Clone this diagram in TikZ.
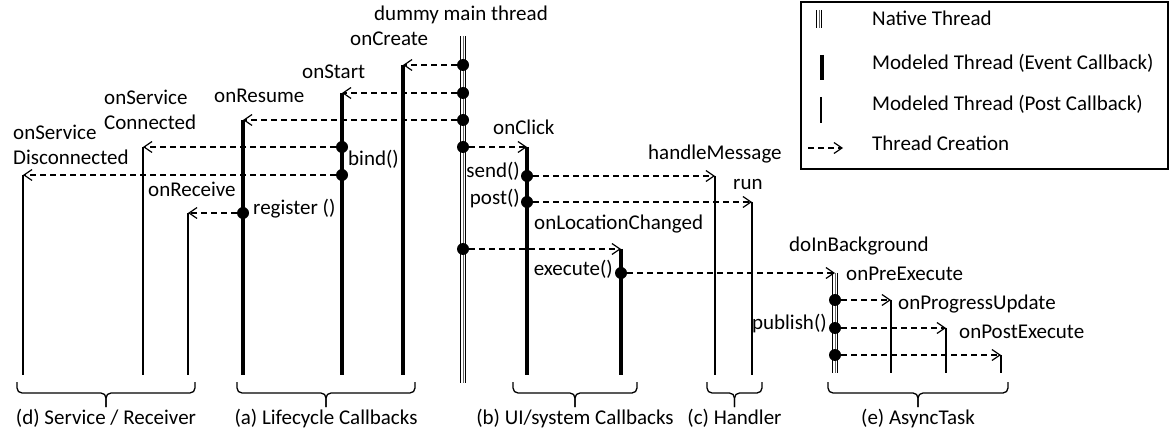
\documentclass[tikz,border=0pt]{standalone}
\usepackage{fontspec}
\setmainfont{Carlito}
\usetikzlibrary{arrows.meta}

\begin{document}
\begin{tikzpicture}[x=1pt, y=-1pt,
            lbl/.style={
              font=\fontsize{21}{25}\selectfont,
              inner sep=0pt
            },
            native/.style={
              draw=black!60, line width=1pt,
              preaction={draw=black, line width=6.6pt},
              preaction={draw=white, line width=3.4pt}
            },
            event/.style={draw, line width=4.4pt},
            posted/.style={draw, line width=1.3pt},
            spawn/.style={
              draw, line width=1.2pt, dash pattern=on 6pt off 4pt,
              -{Straight Barb[length=8pt, width=11pt]}
            },
            dot/.style={circle, fill, inner sep=0pt, minimum size=12pt},
            grpbrace/.style={draw, line width=1.3pt, rounded corners=5pt}
        ]
\useasboundingbox (0,0) rectangle (1170,438);
\def\ybot{375}

% native threads
\coordinate (main-top) at (463,36);
\coordinate (main-bot) at (463,383);
\draw[native] (main-top) -- (main-bot);
\coordinate (dib-top) at (835,273);
\coordinate (dib-bot) at (835,373);
\draw[native] (dib-top) -- (dib-bot);

% event callbacks
\foreach \nm/\x/\y in {create/403/65, start/342/93, resume/243/120, click/527/147, loc/621/249}{
    \coordinate (\nm-top) at (\x,\y);
    \coordinate (\nm-bot) at (\x,\ybot);
    \draw[event] (\nm-top) -- (\nm-bot);
}

% post callbacks
\foreach \nm/\x/\y/\b in {disc/23/175/375, conn/143/147/375, recv/188/213/375,
    hm/715/176/375, run/752/202/375, pre/891/300/373, prog/946/328/373, postx/1001/355/373}{
    \coordinate (\nm-top) at (\x,\y);
    \coordinate (\nm-bot) at (\x,\b);
    \draw[posted] (\nm-top) -- (\nm-bot);
}

\foreach \nm/\x/\y in {m1/463/65, m2/463/93, m3/463/120, m4/463/147, m5/463/249,
    s1/342/147, s2/342/175, r1/243/213, c1/527/176, c2/527/202, e1/621/273,
    a1/835/300, a2/835/328, a3/835/355}
    \node[dot] (\nm) at (\x,\y) {};

\foreach \a/\b in {m1/create-top, m2/start-top, m3/resume-top, m4/click-top, m5/loc-top,
    s1/conn-top, s2/disc-top, r1/recv-top, c1/hm-top, c2/run-top, e1/dib-top,
    a1/pre-top, a2/prog-top, a3/postx-top}
    \draw[spawn] (\a) -- (\b);

% labels
\node[lbl] (main-lbl) at (461,15) {dummy main thread};
\foreach \nm/\x/\y/\n in {create/350/43/onCreate, start/302/76/onStart, resume/214/100/onResume,
    bind/348/163/bind(), recv/148/194/onReceive, reg/253/212/register (), click/493/132/onClick,
    hm/648/157/handleMessage, run/733/187/run, loc/534/227/onLocationChanged,
    dib/789/249/doInBackground, pre/846/278/onPreExecute, prog/898/307/onProgressUpdate,
    postx/959/336/onPostExecute}
    \node[lbl, anchor=mid west] (\nm-lbl) at (\x,\y) {\n};
\foreach \nm/\x/\y/\n in {send/520/175/send(), post/520/202/post(), exec/613/273/execute(),
    pub/827/327/publish()}
    \node[lbl, anchor=mid east] (\nm-lbl) at (\x,\y) {\n};
\node[lbl, anchor=west, align=left] (conn-lbl) at (104,109.5) {onService\\Connected};
\node[lbl, anchor=west, align=left] (disc-lbl) at (13,145) {onService\\Disconnected};

% groups
\foreach \nm/\xa/\xb/\n in {d/17/195/{(d) Service / Receiver}, a/237/415/{(a) Lifecycle Callbacks},
    b/513/637/{(b) UI/system Callbacks}, c/707/762/{(c) Handler}, e/828/1008/{(e) AsyncTask}}{
    \pgfmathsetmacro\xm{(\xa+\xb)/2}
    \draw[grpbrace] (\xa,382) |- (\xm,393) -- (\xm,407);
    \draw[grpbrace] (\xb,382) |- (\xm,393) -- (\xm,407);
    \node[lbl, anchor=mid] (\nm-grp) at (\xm,422) {\n};
}

% legend
\draw[line width=1.3pt] (801,2) rectangle (1168,169);
\coordinate (key1-a) at (819,10);  \coordinate (key1-b) at (819,28);
\coordinate (key2-a) at (822,55);  \coordinate (key2-b) at (822,80);
\coordinate (key3-a) at (821,97);  \coordinate (key3-b) at (821,123);
\coordinate (key4-a) at (808,148); \coordinate (key4-b) at (843,148);
\draw[native] (key1-a) -- (key1-b);
\draw[event] (key2-a) -- (key2-b);
\draw[posted] (key3-a) -- (key3-b);
\draw[spawn] (key4-a) -- (key4-b);
\foreach \i/\y/\n in {1/23/Native Thread, 2/67/Modeled Thread (Event Callback),
    3/108/Modeled Thread (Post Callback), 4/148/Thread Creation}
    \node[lbl, anchor=mid west] (key\i-lbl) at (872,\y) {\n};

\end{tikzpicture}
\end{document}
